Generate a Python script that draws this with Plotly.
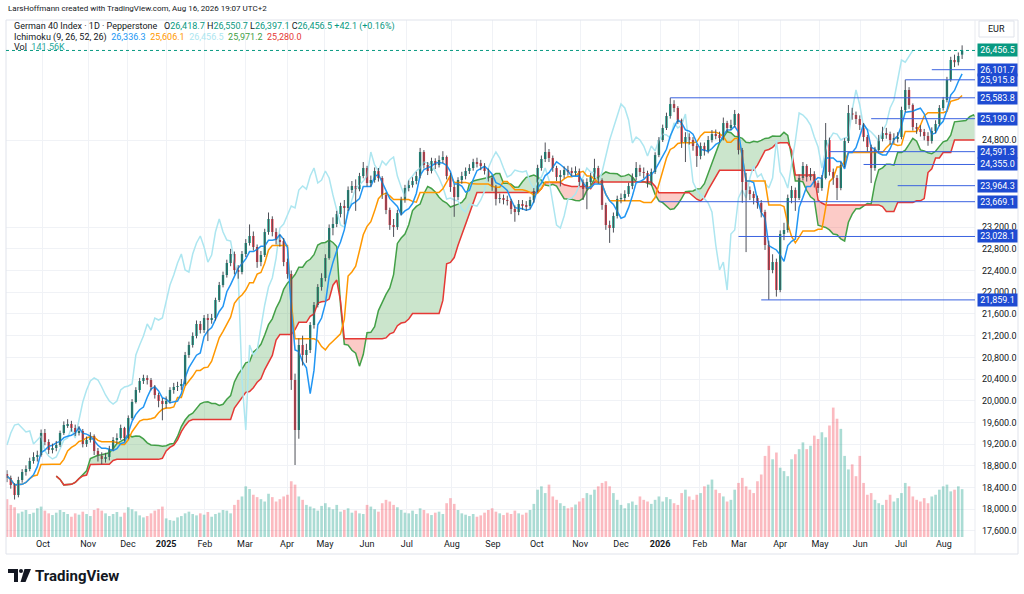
import numpy as np
import pandas as pd
import plotly.graph_objects as go

W, H = 1024, 594
FONT = "Roboto, Arial, sans-serif"
TEXT = "#131722"

# German 40 Index: one candle per two sessions (Sep 2024 - Aug 2026)
opens = [
    18650, 18577, 18448, 18263, 18540, 18687, 18742, 18890, 18964, 19000,
    19406, 19240, 19093, 19129, 19185, 19406, 19553, 19572, 19498, 19424,
    19443, 19203, 19277, 19351, 19074, 18982, 18927, 18964, 19111, 19277,
    19314, 19498, 19314, 19682, 19977, 20198, 20364, 20420, 20383, 20254,
    20106, 19996, 19940, 19996, 20198, 20254, 20272, 20309, 20843, 21028,
    21194, 21415, 21304, 21525, 21488, 21525, 21857, 22133, 22318, 22539,
    22705, 22410, 22373, 22705, 22908, 23037, 22834, 22557, 22686, 23110,
    23350, 23110, 22963, 22944, 22557, 22336, 20383, 19461, 21028, 20843,
    20936, 21396, 21765, 22097, 22263, 22631, 23184, 23258, 23442, 23589,
    23553, 23884, 23958, 23900, 24142, 24290, 24013, 24069, 24235, 24106,
    23792, 23516, 23239, 23202, 23460, 23700, 23921, 23976, 24050, 24142,
    24585, 24345, 24235, 24419, 24345, 24437, 24493, 24142, 23940, 23755,
    24069, 24142, 24235, 24290, 24400, 24380, 24327, 24235, 24106, 23940,
    23719, 23737, 23700, 23682, 23534, 23479, 23626, 23608, 23589, 23700,
    23866, 24290, 24456, 24585, 24474, 24290, 24124, 24161, 24253, 24230,
    24216, 24235, 24032, 23903, 24032, 24124, 24290, 24069, 23608, 23239,
    23184, 23405, 23719, 23737, 23811, 23958, 24124, 24290, 24216, 24198,
    24013, 24216, 24529, 24806, 25027, 25248, 25469, 25396, 25175, 24751,
    24861, 24806, 24695, 24511, 24695, 24603, 24806, 24916, 24898, 24843,
    25119, 25027, 25082, 25285, 24622, 24032, 23884, 23811, 23737, 23645,
    23479, 22871, 22410, 22557, 22041, 23074, 23147, 23737, 23884, 23737,
    24106, 24327, 24124, 24179, 24013, 23921, 24106, 24806, 24216, 24106,
    23921, 24345, 24788, 25304, 25267, 25193, 25082, 24861, 24677, 24290,
    24622, 24824, 24935, 24916, 24806, 24843, 24861, 25359, 25728, 25451,
    25046, 25009, 24954, 24880, 24788, 24972, 25101, 25396, 25543, 25912,
    26281, 26240, 26380,
]
highs = [
    18720, 18620, 18480, 18600, 18740, 18810, 18950, 19050, 19080, 19470,
    19480, 19290, 19210, 19260, 19450, 19620, 19660, 19630, 19560, 19530,
    19480, 19340, 19420, 19380, 19130, 19050, 19040, 19170, 19330, 19400,
    19560, 19520, 19730, 20030, 20250, 20420, 20480, 20470, 20420, 20290,
    20150, 20050, 20080, 20250, 20330, 20350, 20400, 20900, 21090, 21260,
    21480, 21470, 21580, 21600, 21600, 21900, 22190, 22380, 22600, 22800,
    22750, 22500, 22760, 22980, 23250, 23120, 22880, 22760, 23170, 23470,
    23400, 23180, 23060, 23000, 22620, 22400, 20500, 21150, 21200, 21050,
    21450, 21820, 22150, 22350, 22700, 23250, 23380, 23500, 23650, 23700,
    23950, 24050, 24080, 24200, 24400, 24330, 24150, 24300, 24290, 24140,
    23840, 23560, 23350, 23520, 23760, 23980, 24060, 24120, 24220, 24660,
    24620, 24400, 24480, 24470, 24520, 24600, 24520, 24200, 23990, 24120,
    24220, 24300, 24360, 24460, 24480, 24440, 24380, 24280, 24150, 23980,
    23820, 23800, 23780, 23720, 23600, 23700, 23700, 23680, 23760, 23920,
    24350, 24520, 24760, 24640, 24520, 24330, 24250, 24320, 24330, 24300,
    24320, 24280, 24080, 24100, 24200, 24460, 24330, 24100, 23650, 23320,
    23470, 23780, 23820, 23880, 24020, 24190, 24400, 24350, 24300, 24240,
    24280, 24580, 24860, 25090, 25310, 25584, 25540, 25430, 25200, 24950,
    24930, 24860, 24740, 24760, 24760, 24880, 24990, 25000, 24960, 25220,
    25160, 25180, 25360, 25300, 24660, 24200, 23950, 23860, 23780, 23700,
    23520, 22950, 22700, 22620, 23140, 23280, 23800, 23960, 23930, 24170,
    24400, 24360, 24290, 24230, 24060, 24160, 25119, 24850, 24280, 24160,
    24400, 24840, 25451, 25400, 25330, 25260, 25120, 24900, 24720, 24680,
    24900, 25050, 25030, 24960, 24930, 24950, 25420, 25915.8, 25780, 25480,
    25120, 25080, 25010, 24950, 25040, 25170, 25450, 25600, 25970, 26340,
    26380, 26420, 26550.7,
]
lows = [
    18500, 18380, 18180, 18220, 18490, 18620, 18700, 18840, 18880, 18970,
    19180, 19020, 19030, 19070, 19150, 19370, 19500, 19430, 19350, 19360,
    19140, 19150, 19230, 19000, 18880, 18830, 18860, 18900, 19080, 19210,
    19280, 19250, 19290, 19650, 19950, 20150, 20310, 20300, 20190, 20040,
    19880, 19640, 19860, 19950, 20130, 20180, 20200, 20280, 20790, 20980,
    21150, 21240, 21250, 21100, 21420, 21480, 21820, 22090, 22270, 22480,
    22330, 22250, 22330, 22650, 22860, 22770, 22450, 22480, 22650, 23060,
    23030, 22880, 22840, 22480, 22250, 20200, 18816, 19300, 20650, 20700,
    20880, 21330, 21720, 22030, 22200, 22600, 23050, 23200, 23380, 23250,
    23500, 23830, 23500, 23860, 24100, 23950, 23950, 24020, 24040, 23720,
    23440, 23150, 23020, 23150, 23420, 23650, 23860, 23930, 23990, 24100,
    24280, 24160, 24190, 24270, 24300, 24380, 24080, 23850, 23390, 23700,
    24000, 24080, 24180, 24240, 24300, 24250, 24170, 24040, 23870, 23600,
    23640, 23620, 23600, 23440, 23300, 23420, 23520, 23500, 23540, 23650,
    23840, 24240, 24400, 24400, 24220, 24050, 23950, 24100, 24150, 24140,
    24150, 23960, 23700, 23530, 23980, 24080, 24000, 23520, 23150, 22910,
    23100, 23360, 23640, 23680, 23760, 23900, 24060, 24140, 24100, 23930,
    23960, 24180, 24490, 24770, 24990, 25200, 25320, 25100, 24660, 24400,
    24720, 24610, 24310, 24450, 24520, 24560, 24760, 24820, 24760, 24800,
    24950, 24990, 25040, 24540, 23650, 22740, 23700, 23620, 23540, 23380,
    22780, 21859.1, 22350, 21920, 22000, 22960, 23100, 23640, 23500, 23700,
    24060, 24040, 24060, 23930, 23830, 23870, 24080, 24150, 23980, 23700,
    23880, 24300, 24750, 25180, 25100, 24990, 24780, 24590, 24013, 24240,
    24580, 24780, 24830, 24720, 24740, 24760, 24820, 25320, 25380, 24980,
    24920, 24870, 24800, 24700, 24740, 24930, 25060, 25350, 25500, 25880,
    26150, 26180, 26300,
]
closes = [
    18577, 18448, 18263, 18540, 18687, 18742, 18890, 18964, 19000, 19406,
    19240, 19093, 19129, 19185, 19406, 19553, 19572, 19498, 19424, 19443,
    19203, 19277, 19351, 19074, 18982, 18927, 18964, 19111, 19277, 19314,
    19498, 19314, 19682, 19977, 20198, 20364, 20420, 20383, 20254, 20106,
    19996, 19940, 19996, 20198, 20254, 20272, 20309, 20843, 21028, 21194,
    21415, 21304, 21525, 21488, 21525, 21857, 22133, 22318, 22539, 22705,
    22410, 22373, 22705, 22908, 23037, 22834, 22557, 22686, 23110, 23350,
    23110, 22963, 22944, 22557, 22336, 20383, 19461, 21028, 20843, 20936,
    21396, 21765, 22097, 22263, 22631, 23184, 23258, 23442, 23589, 23553,
    23884, 23958, 23900, 24142, 24290, 24013, 24069, 24235, 24106, 23792,
    23516, 23239, 23202, 23460, 23700, 23921, 23976, 24050, 24142, 24585,
    24345, 24235, 24419, 24345, 24437, 24493, 24142, 23940, 23755, 24069,
    24142, 24235, 24290, 24400, 24380, 24327, 24235, 24106, 23940, 23719,
    23737, 23700, 23682, 23534, 23479, 23626, 23608, 23589, 23700, 23866,
    24290, 24456, 24585, 24474, 24290, 24124, 24161, 24253, 24230, 24216,
    24235, 24032, 23903, 24032, 24124, 24290, 24069, 23608, 23239, 23184,
    23405, 23719, 23737, 23811, 23958, 24124, 24290, 24216, 24198, 24013,
    24216, 24529, 24806, 25027, 25248, 25469, 25396, 25175, 24751, 24861,
    24806, 24695, 24511, 24695, 24603, 24806, 24916, 24898, 24843, 25119,
    25027, 25082, 25285, 24622, 24032, 23884, 23811, 23737, 23645, 23479,
    22871, 22410, 22557, 22041, 23074, 23147, 23737, 23884, 23737, 24106,
    24327, 24124, 24179, 24013, 23921, 24106, 24806, 24216, 24106, 23921,
    24345, 24788, 25304, 25267, 25193, 25082, 24861, 24677, 24290, 24622,
    24824, 24935, 24916, 24806, 24843, 24861, 25359, 25728, 25451, 25046,
    25009, 24954, 24880, 24788, 24972, 25101, 25396, 25543, 25912, 26281,
    26240, 26354, 26456.5,
]
# volume in thousands
volumes_k = [
    112, 95, 88, 70, 75, 80, 68, 72, 85, 90,
    78, 70, 65, 72, 80, 74, 68, 60, 70, 66,
    75, 68, 62, 80, 85, 78, 70, 62, 68, 74,
    60, 72, 88, 82, 76, 64, 58, 62, 70, 78,
    82, 90, 55, 50, 48, 58, 62, 70, 75, 68,
    64, 70, 66, 74, 60, 68, 72, 80, 78, 70,
    95, 110, 120, 150, 142, 125, 118, 112, 105, 128,
    118, 105, 112, 120, 125, 165, 155, 120, 110, 95,
    90, 85, 78, 92, 100, 88, 82, 95, 75, 80,
    85, 72, 78, 70, 68, 95, 90, 82, 75, 100,
    110, 105, 95, 88, 80, 72, 70, 78, 68, 85,
    80, 70, 65, 72, 75, 68, 100, 115, 98, 80,
    70, 66, 62, 68, 60, 64, 72, 80, 85, 75,
    70, 65, 72, 68, 78, 70, 66, 72, 80, 98,
    140, 150, 130, 155, 120, 110, 100, 92, 85, 88,
    96, 105, 115, 130, 125, 140, 150, 160, 165, 150,
    130, 110, 95, 85, 100, 105, 95, 120, 110, 105,
    98, 110, 120, 105, 118, 112, 100, 95, 130, 140,
    120, 110, 125, 130, 150, 155, 170, 140, 130, 120,
    105, 110, 140, 160, 175, 150, 140, 130, 165, 185,
    240, 270, 230, 250, 205, 195, 180, 230, 245, 260,
    280, 260, 270, 300, 290, 310, 295, 330, 383, 350,
    320, 240, 200, 215, 180, 240, 160, 125, 130, 110,
    100, 95, 110, 125, 105, 115, 130, 160, 150, 120,
    110, 105, 115, 100, 120, 125, 140, 150, 155, 135,
    140, 150, 141.56,
]

# time axis: month labels and the candle index where each month starts
month_labels = ["Oct", "Nov", "Dec", "<b>2025</b>", "Feb", "Mar", "Apr", "May", "Jun", "Jul", "Aug",
                "Sep", "Oct", "Nov", "Dec", "<b>2026</b>", "Feb", "Mar", "Apr", "May", "Jun", "Jul", "Aug"]
month_bars = [9.5, 21.4, 31.9, 42.0, 52.2, 62.8, 73.9, 83.9, 95.0, 105.5, 117.4,
              128.2, 139.8, 151.2, 162.0, 172.3, 182.8, 193.1, 204.0, 214.5, 225.1, 235.9, 247.2]
# price scale labels that are not hidden behind the level labels
price_ticks = [17600, 18000, 18400, 18800, 19200, 19600, 20000, 20400, 20800,
               21200, 21600, 22000, 22400, 22800, 23200, 24800]

# horizontal rays drawn on the chart: price level and the candle they start from
level_prices = [26101.7, 25915.8, 25583.8, 25199.0, 24591.3, 24355.0, 23964.3, 23669.1, 23028.1, 21859.1]
level_start = [244, 237, 175, 228, 217, 226, 235, 172, 193, 199]
last_price = 26456.5

# Ichimoku (9, 26, 52, 26) in two-session candles
CONV, BASE, SPAN_B, SHIFT = 5, 13, 26, 13

UP, DOWN = "#089981", "#F23645"
BLUE_LABEL = "#1E4BD2"

X_RANGE = [-0.26, 255.4]
Y_RANGE = [17489, 27018]
LEFT, RIGHT, TOP, BOTTOM = 6, 975, 20, 537


def px(x):
    return x / W


def py(y):
    return 1 - y / H


n = len(closes)
bars = np.arange(n)
o = np.array(opens, float)
h = np.array(highs, float)
l = np.array(lows, float)
c = np.array(closes, float)
rising = c >= o

hs, ls = pd.Series(h), pd.Series(l)


def donchian_mid(period):
    return ((hs.rolling(period, min_periods=1).max() + ls.rolling(period, min_periods=1).min()) / 2).to_numpy()


conv = donchian_mid(CONV)
base = donchian_mid(BASE)
lead_a = (conv + base) / 2
lead_b = donchian_mid(SPAN_B)
lead_x = bars + SHIFT


def cloud_polygons(xs, a, b):
    polys = []
    cx, ca, cb = [xs[0]], [a[0]], [b[0]]
    above = a[0] >= b[0]
    for i in range(1, len(xs)):
        now = a[i] >= b[i]
        if now != above:
            d0, d1 = a[i - 1] - b[i - 1], a[i] - b[i]
            t = d0 / (d0 - d1)
            xc = xs[i - 1] + t * (xs[i] - xs[i - 1])
            yc = a[i - 1] + t * (a[i] - a[i - 1])
            cx.append(xc); ca.append(yc); cb.append(yc)
            polys.append((above, cx, ca, cb))
            cx, ca, cb = [xc], [yc], [yc]
            above = now
        cx.append(xs[i]); ca.append(a[i]); cb.append(b[i])
    polys.append((above, cx, ca, cb))
    return polys


fig = go.Figure()

# volume
fig.add_trace(go.Bar(
    x=bars, y=volumes_k, yaxis="y2", width=0.7,
    marker=dict(color=np.where(rising, "rgba(8,153,129,0.34)", "rgba(242,54,69,0.34)"), line_width=0),
    hoverinfo="skip",
))

# cloud
for is_up, cx, ca, cb in cloud_polygons(lead_x.astype(float), lead_a, lead_b):
    fig.add_trace(go.Scatter(
        x=cx + cx[::-1], y=ca + cb[::-1], mode="lines", fill="toself",
        fillcolor="rgba(67,160,71,0.28)" if is_up else "rgba(244,67,54,0.28)",
        line=dict(width=0), hoverinfo="skip",
    ))

fig.add_trace(go.Scatter(x=lead_x, y=lead_a, mode="lines", line=dict(color="#43A047", width=1.5), hoverinfo="skip"))
fig.add_trace(go.Scatter(x=lead_x, y=lead_b, mode="lines", line=dict(color="#E53935", width=1.5), hoverinfo="skip"))
fig.add_trace(go.Scatter(x=bars[:-SHIFT], y=c[SHIFT:], mode="lines", line=dict(color="#ADE6F0", width=1.5), hoverinfo="skip"))
fig.add_trace(go.Scatter(x=bars, y=base, mode="lines", line=dict(color="#FF9800", width=1.5), hoverinfo="skip"))
fig.add_trace(go.Scatter(x=bars, y=conv, mode="lines", line=dict(color="#2196F3", width=1.5), hoverinfo="skip"))

# candles: wicks then bodies
wx, wy = [], []
for i in range(n):
    wx += [i, i, None]
    wy += [l[i], h[i], None]
fig.add_trace(go.Scatter(x=wx, y=wy, mode="lines", line=dict(color="#4d4f57", width=1), hoverinfo="skip"))
fig.add_trace(go.Bar(
    x=bars, y=np.maximum(np.abs(c - o), 15), base=np.minimum(o, c), width=0.62,
    marker=dict(color=np.where(rising, UP, DOWN), line_width=0), hoverinfo="skip",
))

shapes = []
# chart frame and price scale border
shapes.append(dict(type="rect", xref="paper", yref="paper", x0=px(6), x1=px(1018), y0=py(554), y1=py(TOP),
                   line=dict(color="#e0e3eb", width=1)))
shapes.append(dict(type="line", xref="paper", yref="paper", x0=px(RIGHT), x1=px(RIGHT), y0=py(554), y1=py(TOP),
                   line=dict(color="#e9ebf0", width=1)))
# last price dotted line
shapes.append(dict(type="line", xref="x", yref="y", x0=X_RANGE[0], x1=X_RANGE[1], y0=last_price, y1=last_price,
                   line=dict(color=UP, width=1, dash="dot"), layer="above"))
for lvl, start in zip(level_prices, level_start):
    shapes.append(dict(type="line", xref="x", yref="y", x0=start, x1=X_RANGE[1], y0=lvl, y1=lvl,
                       line=dict(color="#3A62E0", width=1), layer="above"))
# EUR box
shapes.append(dict(type="rect", xref="paper", yref="paper", x0=px(979), x1=px(1014), y0=py(37), y1=py(21),
                   line=dict(color="#e0e3eb", width=1), fillcolor="white", layer="above"))
# TradingView logo mark
shapes.append(dict(type="path", xref="paper", yref="paper", fillcolor="#131722", line_width=0,
                   path=f"M {px(8)} {py(569)} L {px(18)} {py(569)} L {px(18)} {py(582)} L {px(14)} {py(582)} "
                        f"L {px(14)} {py(573)} L {px(8)} {py(573)} Z"))
shapes.append(dict(type="circle", xref="paper", yref="paper", fillcolor="#131722", line_width=0,
                   x0=px(19), x1=px(23), y0=py(573), y1=py(569)))
shapes.append(dict(type="path", xref="paper", yref="paper", fillcolor="#131722", line_width=0,
                   path=f"M {px(24.5)} {py(569)} L {px(31)} {py(569)} L {px(25.5)} {py(582)} L {px(20.5)} {py(582)} Z"))

annotations = []


def note(x, y, text, size=9, color=TEXT, anchor="left", **kw):
    annotations.append(dict(xref="paper", yref="paper", x=px(x), y=py(y), text=text, showarrow=False,
                            xanchor=anchor, yanchor="middle", font=dict(family=FONT, size=size, color=color), **kw))


def span(text, color):
    return f'<span style="color:{color}">{text}</span>'


note(6, 8, "LarsHoffmann created with TradingView.com, Aug 16, 2026 19:07 UTC+2", size=8)
note(12, 27, "German 40 Index · 1D · Pepperstone\u00a0\u00a0\u00a0O" + span("26,418.7", UP) + " H" + span("26,550.7", UP)
     + " L" + span("26,397.1", UP) + " C" + span("26,456.5", UP) + " " + span("+42.1 (+0.16%)", UP))
note(12, 37, "Ichimoku (9, 26, 52, 26)\u00a0\u00a0" + span("26,336.3", "#2196F3") + "\u00a0\u00a0"
     + span("25,606.1", "#FF9800") + "\u00a0\u00a0" + span("26,456.5", "#ADE6F0") + "\u00a0\u00a0"
     + span("25,971.2", "#43A047") + "\u00a0\u00a0" + span("25,280.0", "#E53935"))
note(12, 47, "Vol\u00a0\u00a0" + span("141.56K", "#26A69A"))
note(996.5, 29, "EUR", size=9, anchor="center")
note(33, 576, "<b>TradingView</b>", size=15)

# price labels on the scale
for lvl, color in [(last_price, UP)] + [(p, BLUE_LABEL) for p in level_prices]:
    annotations.append(dict(xref="paper", yref="y", x=px(977), y=lvl, text=f"{lvl:,.1f}", showarrow=False,
                            xanchor="left", yanchor="middle", width=37, height=10, bgcolor=color, borderpad=1,
                            font=dict(family=FONT, size=9, color="white")))

fig.update_layout(
    width=W, height=H,
    margin=dict(l=0, r=0, t=0, b=0),
    paper_bgcolor="white", plot_bgcolor="white",
    showlegend=False, hovermode=False, barmode="overlay",
    xaxis=dict(domain=[px(LEFT), px(RIGHT)], range=X_RANGE, tickvals=month_bars, ticktext=month_labels,
               showgrid=True, gridcolor="#f0f2f6", zeroline=False, showline=False, ticks="",
               tickfont=dict(family=FONT, size=9, color=TEXT)),
    yaxis=dict(domain=[py(BOTTOM), py(TOP)], range=Y_RANGE, side="right", tickvals=price_ticks,
               tickformat=",.1f", showgrid=True, gridcolor="#f0f2f6", zeroline=False, showline=False,
               ticks="", ticklabelstandoff=6, tickfont=dict(family=FONT, size=9, color=TEXT)),
    yaxis2=dict(overlaying="y", range=[0, 1530], visible=False),
    shapes=shapes, annotations=annotations,
)

fig.write_html("out.html", config={"displayModeBar": False}, post_script="document.body.style.margin='0';")
